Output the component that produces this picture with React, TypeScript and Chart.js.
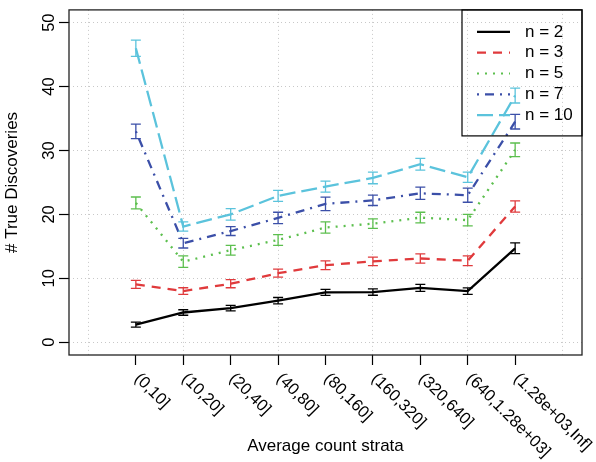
import React, { useEffect, useRef } from "react";
import { Chart, registerables } from "chart.js";

Chart.register(...registerables);

// ---------- data ----------
const categories = [
  "(0,10]",
  "(10,20]",
  "(20,40]",
  "(40,80]",
  "(80,160]",
  "(160,320]",
  "(320,640]",
  "(640,1.28e+03]",
  "(1.28e+03,Inf]",
];
const seriesNames = ["n = 2", "n = 3", "n = 5", "n = 7", "n = 10"];

const n2 = [2.75, 4.65, 5.35, 6.5, 7.8, 7.85, 8.5, 8.0, 14.7];
const n3 = [9.05, 8.0, 9.15, 10.8, 12.05, 12.65, 13.1, 12.75, 21.25];
const n5 = [21.8, 12.6, 14.4, 16.0, 17.95, 18.55, 19.5, 19.1, 30.1];
const n7 = [33.0, 15.5, 17.4, 19.45, 21.65, 22.2, 23.3, 23.0, 34.5];
const n10 = [46.0, 18.1, 20.0, 22.9, 24.35, 25.7, 27.85, 25.8, 38.6];

const e2 = [0.38, 0.43, 0.43, 0.5, 0.48, 0.5, 0.55, 0.5, 0.84];
const e3 = [0.62, 0.52, 0.63, 0.63, 0.68, 0.68, 0.73, 0.76, 0.88];
const e5 = [0.92, 0.9, 0.76, 0.84, 0.89, 0.75, 0.84, 0.91, 1.07];
const e7 = [1.14, 0.76, 0.7, 0.89, 1.06, 0.81, 0.96, 1.1, 1.14];
const e10 = [1.27, 0.72, 0.9, 0.85, 0.85, 0.9, 0.93, 0.8, 1.17];

const yTicks = [0, 10, 20, 30, 40, 50];
const xGridTicks = [-1, 1, 3, 5, 7, 9];

const series = [n2, n3, n5, n7, n10];
const errors = [e2, e3, e5, e7, e10];

// ---------- styles ----------
const colors = ["#000000", "#E03A3C", "#5CBF4E", "#3B4FA8", "#5BC3DC"];
const dashes: number[][] = [[], [9, 7], [2, 6], [2, 6, 9, 6], [16, 6]];
const FONT = '"Liberation Sans", Arial, Helvetica, sans-serif';

const rPlugin = {
  id: "rStyle",
  afterDatasetsDraw(chart: any) {
    const { ctx, scales } = chart;
    const xs = scales.x;
    const ys = scales.y;
    ctx.save();
    ctx.setLineDash([]);
    ctx.lineWidth = 1.3;
    series.forEach((s, k) => {
      ctx.strokeStyle = colors[k];
      s.forEach((v, i) => {
        const px = xs.getPixelForValue(i);
        const lo = ys.getPixelForValue(v - errors[k][i]);
        const hi = ys.getPixelForValue(v + errors[k][i]);
        ctx.beginPath();
        ctx.moveTo(px, lo);
        ctx.lineTo(px, hi);
        ctx.moveTo(px - 5, lo);
        ctx.lineTo(px + 5, lo);
        ctx.moveTo(px - 5, hi);
        ctx.lineTo(px + 5, hi);
        ctx.stroke();
      });
    });
    ctx.restore();
  },
  afterDraw(chart: any) {
    const { ctx, chartArea: ca, scales } = chart;
    const xs = scales.x;
    ctx.save();
    // plot box
    ctx.setLineDash([]);
    ctx.strokeStyle = "#222";
    ctx.lineWidth = 1.3;
    ctx.strokeRect(ca.left, ca.top, ca.right - ca.left, ca.bottom - ca.top);

    // rotated category labels
    ctx.fillStyle = "#000";
    ctx.font = `16.5px ${FONT}`;
    ctx.textAlign = "left";
    ctx.textBaseline = "middle";
    categories.forEach((c, i) => {
      const px = xs.getPixelForValue(i);
      ctx.save();
      ctx.translate(px + 1, ca.bottom + 21);
      ctx.rotate(Math.PI / 4);
      ctx.fillText(c, 0, 0);
      ctx.restore();
    });

    // legend
    const lx0 = ca.right - 120;
    const ly0 = ca.top;
    ctx.strokeStyle = "#000";
    ctx.lineWidth = 1.2;
    ctx.strokeRect(lx0, ly0, ca.right - lx0, 126);
    ctx.font = `17px ${FONT}`;
    seriesNames.forEach((name, k) => {
      const y = ly0 + 22 + k * 20.8;
      ctx.beginPath();
      ctx.strokeStyle = colors[k];
      ctx.lineWidth = 2.2;
      ctx.setLineDash(dashes[k]);
      ctx.moveTo(ca.right - 105, y);
      ctx.lineTo(ca.right - 72, y);
      ctx.stroke();
      ctx.setLineDash([]);
      ctx.fillStyle = "#000";
      ctx.fillText(name, ca.right - 57, y);
    });
    ctx.restore();
  },
};

export default function App() {
  const ref = useRef<HTMLCanvasElement | null>(null);

  useEffect(() => {
    if (!ref.current) return;
    const datasets = series.map((s, k) => ({
      label: seriesNames[k],
      data: s.map((v, i) => ({ x: i, y: v })),
      borderColor: colors[k],
      backgroundColor: colors[k],
      borderWidth: 2.3,
      borderDash: dashes[k],
      pointRadius: 0,
      pointHoverRadius: 0,
      fill: false,
      tension: 0,
      xAxisID: "x",
      yAxisID: "y",
    }));

    const chart = new Chart(ref.current, {
      type: "line",
      data: { datasets },
      options: {
        animation: false,
        responsive: false,
        devicePixelRatio: 1,
        layout: { padding: { left: 0, top: 1, right: 14, bottom: 0 } },
        plugins: {
          legend: { display: false },
          tooltip: { enabled: false },
        },
        scales: {
          x: {
            type: "linear",
            position: "bottom",
            min: -1.41,
            max: 9.41,
            afterBuildTicks: (s: any) => {
              s.ticks = categories.map((_, i) => ({ value: i }));
            },
            ticks: { display: false },
            grid: {
              drawOnChartArea: false,
              drawTicks: true,
              tickLength: 10,
              tickColor: "#000",
              tickWidth: 1.2,
            },
            border: { display: false },
            title: {
              display: true,
              text: "Average count strata",
              color: "#000",
              font: { family: FONT, size: 17 },
              padding: { top: 0, bottom: 5 },
            },
            afterFit: (s: any) => {
              s.height = 107;
            },
          },
          xg: {
            type: "linear",
            position: "bottom",
            min: -1.41,
            max: 9.41,
            afterBuildTicks: (s: any) => {
              s.ticks = xGridTicks.map((v) => ({ value: v }));
            },
            ticks: { display: false },
            grid: {
              color: "#C8C8C8",
              lineWidth: 1,
              drawTicks: false,
            },
            border: { display: false, dash: [1, 3] },
            afterFit: (s: any) => {
              s.height = 0;
            },
          },
          y: {
            type: "linear",
            position: "left",
            min: -2,
            max: 52,
            afterBuildTicks: (s: any) => {
              s.ticks = yTicks.map((v) => ({ value: v }));
            },
            ticks: {
              minRotation: 90,
              maxRotation: 90,
              crossAlign: "center",
              padding: 0,
              color: "#000",
              font: { family: FONT, size: 16.5 },
              callback: (v: any) => String(v),
            },
            grid: {
              color: "#C8C8C8",
              lineWidth: 1,
              tickLength: 10,
              tickColor: "#000",
              tickWidth: 1.2,
              tickBorderDash: [],
            },
            border: { display: false, dash: [1, 3] },
            title: {
              display: true,
              text: "# True Discoveries",
              color: "#000",
              font: { family: FONT, size: 17 },
              padding: { top: 2, bottom: 0 },
            },
            afterFit: (s: any) => {
              s.width = 69;
            },
          },
        },
      } as any,
      plugins: [rPlugin],
    });
    return () => chart.destroy();
  }, []);

  return (
    <div style={{ position: "absolute", left: 0, top: 0, width: 596, height: 462, background: "#fff" }}>
      <canvas ref={ref} width={596} height={462} style={{ display: "block" }} />
    </div>
  );
}
